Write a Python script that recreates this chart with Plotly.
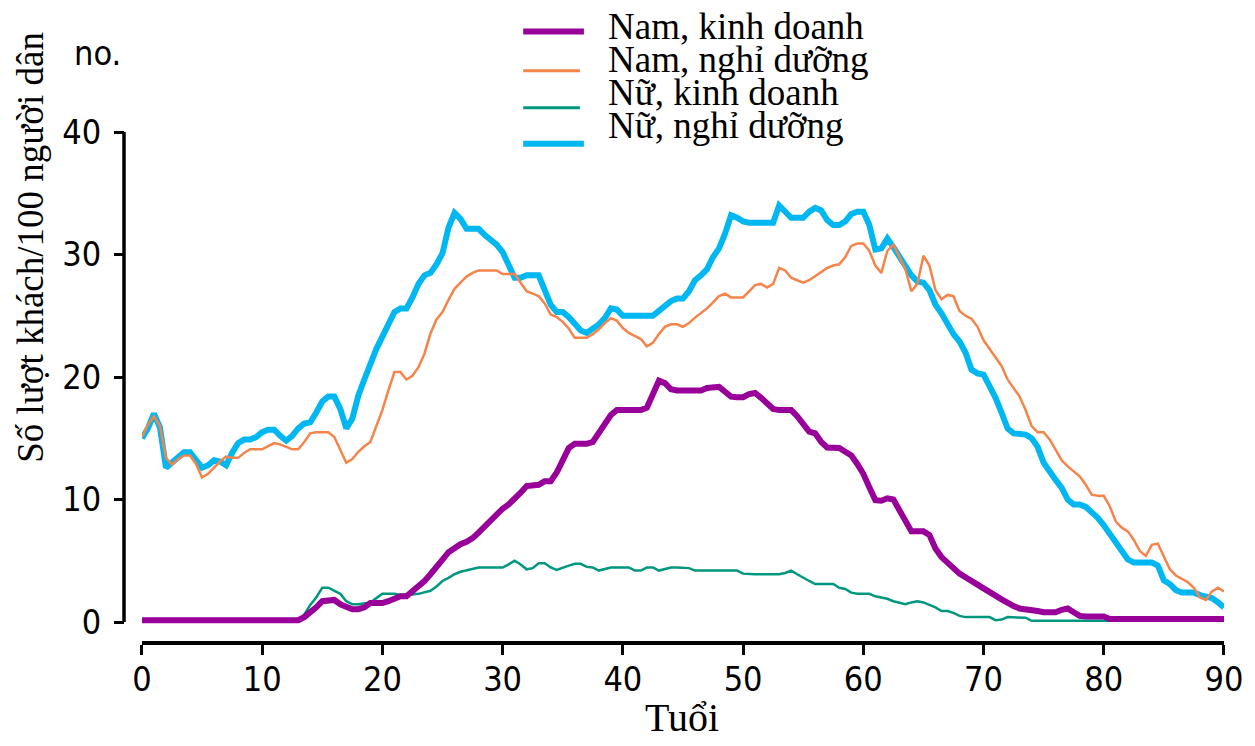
import plotly.graph_objects as go

# Age grid (half-year steps, 0 to 90)
AGES = [i / 2 for i in range(181)]

SERIES_NAMES = ["Nam, kinh doanh", "Nam, nghỉ dưỡng", "Nữ, kinh doanh", "Nữ, nghỉ dưỡng"]
SERIES_COLORS = ["#990099", "#F5844A", "#00977F", "#00B7F1"]

# Trips per 100 residents, one value per half-year of age
NAM_KINH_DOANH = [
    0.15, 0.15, 0.15, 0.15, 0.15, 0.15, 0.15, 0.15, 0.15, 0.15,
    0.15, 0.15, 0.15, 0.15, 0.15, 0.15, 0.15, 0.15, 0.15, 0.15,
    0.15, 0.15, 0.15, 0.15, 0.15, 0.15, 0.15,
    0.4, 0.75, 1.2, 1.7, 1.8, 1.8, 1.45, 1.2, 1.05, 1.05, 1.2, 1.55, 1.55,
    1.55, 1.7, 1.9, 2.1, 2.1, 2.5, 2.9, 3.35, 3.9, 4.6,
    5.1, 5.7, 6.1, 6.35, 6.55, 6.85, 7.3, 7.8, 8.3, 8.75,
    9.25, 9.6, 10.0, 10.55, 11.1, 11.2, 11.2, 11.5, 11.5, 12.2,
    13.3, 14.2, 14.55, 14.55, 14.55, 14.7, 15.4, 16.1, 16.9, 17.3,
    17.3, 17.3, 17.3, 17.3, 17.5, 18.7, 19.7, 19.5, 19.0, 18.9,
    18.9, 18.9, 18.9, 18.9, 19.1, 19.2, 19.2, 18.8, 18.4, 18.35,
    18.35, 18.6, 18.7, 18.3, 17.8, 17.4, 17.3, 17.3, 17.3, 16.8,
    16.1, 15.55, 15.4, 14.7, 14.25, 14.25, 14.2, 13.9, 13.6, 12.9,
    12.1, 11.0, 9.95, 9.9, 10.1, 10.0, 9.2, 8.4, 7.4, 7.4,
    7.4, 7.1, 6.0, 5.3, 4.8, 4.35, 3.95, 3.65, 3.4, 3.05,
    2.75, 2.5, 2.15, 1.85, 1.55, 1.3, 1.1, 1.05, 1.05, 0.9,
    0.8, 0.8, 0.8, 1.0, 1.1, 0.8, 0.5, 0.45, 0.45, 0.45,
    0.45, 0.25,
    0.25, 0.25, 0.25, 0.25, 0.25, 0.25, 0.25, 0.25, 0.25, 0.25,
    0.25, 0.25, 0.25, 0.25, 0.25, 0.25, 0.25, 0.25, 0.25,
]

NAM_NGHI_DUONG = [
    15.1, 16.1, 16.8, 16.0, 13.4, 12.85, 13.3, 13.6, 13.6, 12.9,
    11.8, 12.1, 12.6, 13.1, 13.5, 13.4, 13.4, 13.8, 14.1, 14.1,
    14.1, 14.35, 14.6, 14.5, 14.3, 14.1, 14.1, 14.7, 15.4, 15.5,
    15.5, 15.5, 15.1, 14.0, 13.0, 13.3, 13.9, 14.35, 14.7, 16.0,
    17.3, 18.9, 20.4, 20.4, 19.8, 20.1, 20.8, 21.9, 23.55, 24.7,
    25.3, 26.3, 27.2, 27.7, 28.2, 28.5, 28.7, 28.7, 28.7, 28.7,
    28.4, 28.4, 28.4, 27.7, 27.0, 26.8, 26.6, 26.0, 25.1, 24.9,
    24.5, 23.96, 23.2, 23.2, 23.2, 23.5, 23.9, 24.4, 24.8, 24.6,
    24.0, 23.6, 23.35, 23.1, 22.5, 22.8, 23.5, 24.1, 24.3, 24.3,
    24.1, 24.4, 24.85, 25.2, 25.6, 26.1, 26.6, 26.8, 26.5, 26.5,
    26.5, 27.0, 27.5, 27.6, 27.3, 27.6, 28.9, 28.7, 28.1, 27.9,
    27.7, 27.9, 28.25, 28.6, 28.9, 29.1, 29.2, 29.8, 30.7, 30.9,
    30.9, 30.3, 29.1, 28.5, 30.3, 30.8, 29.8, 28.8, 27.0, 27.6,
    29.9, 29.1, 27.1, 26.35, 26.7, 26.6, 25.4, 25.0, 24.75, 24.1,
    23.0, 22.3, 21.6, 20.9, 19.8, 19.1, 18.4, 17.3, 16.0, 15.5,
    15.5, 14.9, 14.0, 13.2, 12.7, 12.3, 11.9, 11.2, 10.4, 10.3,
    10.3, 9.45, 8.2, 7.7, 7.4, 6.7, 5.8, 5.4, 6.3, 6.4,
    5.3, 4.3, 3.8, 3.5, 3.25, 2.8, 2.0, 1.8, 2.5, 2.8,
    2.5,
]

NU_KINH_DOANH = [
    0.15, 0.15, 0.15, 0.15, 0.15, 0.15, 0.15, 0.15, 0.15, 0.15,
    0.15, 0.15, 0.15, 0.15, 0.15, 0.15, 0.15, 0.15, 0.15, 0.15,
    0.15, 0.15, 0.15, 0.15, 0.15, 0.15, 0.15,
    0.6, 1.4, 2.0, 2.8, 2.8, 2.55, 2.3, 1.7, 1.45, 1.45, 1.5, 1.6, 1.95,
    2.3, 2.3, 2.3, 2.2, 2.2, 2.25, 2.3, 2.4, 2.55, 2.9,
    3.35, 3.6, 3.9, 4.1, 4.2, 4.3, 4.45, 4.45, 4.45, 4.45,
    4.45, 4.7, 5.0, 4.7, 4.3, 4.4, 4.8, 4.8, 4.45, 4.25,
    4.45, 4.6, 4.75, 4.75, 4.5, 4.45, 4.2, 4.3, 4.45, 4.45,
    4.45, 4.45, 4.2, 4.2, 4.45, 4.45, 4.2, 4.3, 4.45, 4.45,
    4.45, 4.4, 4.2, 4.2, 4.2, 4.2, 4.2, 4.2, 4.2, 4.2,
    3.95, 3.9, 3.9, 3.9, 3.9, 3.9, 3.9, 4.0, 4.2, 3.9,
    3.6, 3.35, 3.1, 3.1, 3.1, 3.1, 2.8, 2.7, 2.4, 2.3,
    2.3, 2.3, 2.1, 2.0, 1.9, 1.7, 1.6, 1.45, 1.6, 1.7,
    1.6, 1.4, 1.2, 0.9, 0.9, 0.75, 0.5, 0.4, 0.4, 0.4,
    0.4, 0.4, 0.15, 0.2, 0.4, 0.4, 0.4, 0.35, 0.1, 0.1,
    0.1, 0.1, 0.1, 0.1, 0.1, 0.1, 0.1, 0.1, 0.1, 0.1,
    0.1, 0.1, 0.1, 0.1, 0.1, 0.1, 0.1, 0.1, 0.1, 0.1,
    0.1, 0.1, 0.1, 0.1, 0.1, 0.1, 0.1, 0.1, 0.1, 0.1,
    0.1,
]

NU_NGHI_DUONG = [
    15.0, 15.8, 17.0, 15.9, 12.6, 13.0, 13.5, 13.85, 13.85, 13.3,
    12.6, 12.8, 13.2, 13.1, 12.8, 13.8, 14.6, 14.9, 14.9, 15.1,
    15.5, 15.7, 15.7, 15.2, 14.8, 15.2, 15.8, 16.2, 16.3, 17.1,
    18.0, 18.4, 18.4, 17.4, 15.8, 16.6, 18.5, 19.8, 21.1, 22.3,
    23.3, 24.4, 25.3, 25.6, 25.6, 26.5, 27.6, 28.3, 28.5, 29.2,
    30.1, 32.2, 33.4, 32.9, 32.1, 32.1, 32.1, 31.6, 31.2, 30.8,
    30.2, 29.0, 28.1, 28.1, 28.3, 28.3, 28.3, 27.1, 25.9, 25.3,
    25.3, 24.9, 24.3, 23.8, 23.6, 23.9, 24.3, 24.8, 25.6, 25.5,
    25.0, 25.0, 25.0, 25.0, 25.0, 25.0, 25.4, 25.8, 26.2, 26.4,
    26.4, 27.0, 27.9, 28.3, 28.8, 29.8, 30.5, 31.7, 33.2, 33.0,
    32.7, 32.6, 32.6, 32.6, 32.6, 32.6, 34.0, 33.5, 33.0, 33.0,
    33.0, 33.5, 33.8, 33.6, 32.8, 32.4, 32.4, 32.7, 33.3, 33.5,
    33.5, 32.4, 30.4, 30.5, 31.3, 30.6, 29.8, 29.0, 28.3, 27.8,
    27.7, 27.1, 25.9, 25.2, 24.3, 23.5, 22.9, 22.0, 20.6, 20.3,
    20.2, 19.3, 18.3, 17.1, 15.8, 15.4, 15.4, 15.3, 15.0, 14.3,
    13.0, 12.2, 11.6, 10.95, 10.0, 9.6, 9.6, 9.4, 9.0, 8.5,
    7.9, 7.2, 6.4, 5.6, 5.1, 4.85, 4.85, 4.85, 4.85, 4.6,
    3.4, 3.1, 2.6, 2.4, 2.4, 2.4, 2.2, 2.05, 1.95, 1.6,
    1.2,
]

X_TICKS = [0, 10, 20, 30, 40, 50, 60, 70, 80, 90]
Y_TICKS = [0, 10, 20, 30, 40]

# ---- page geometry (pixels) ----
W, H = 1255, 746
ML, MR, MT, MB = 124, 26, 131.5, 103
PW, PH = W - ML - MR, H - MT - MB
X0_PX = 142          # where age 0 sits
Y0_PX, Y40_PX = 622, 131.5
Y_MIN = -0.6


def pxx(x):
    return (x - ML) / PW


def pxy(y):
    return (H - MB - y) / PH


y_unit = (Y0_PX - Y40_PX) / 40.0
y_bottom_px = Y0_PX - Y_MIN * y_unit

TICK_FONT = dict(family="Liberation Sans Narrow, Arial Narrow, DejaVu Sans Condensed, sans-serif",
                 size=34, color="black")
SERIF = "Liberation Serif, Times New Roman, serif"

fig = go.Figure()

series = [NAM_KINH_DOANH, NAM_NGHI_DUONG, NU_KINH_DOANH, NU_NGHI_DUONG]
widths = [6, 2.5, 2.5, 6]
# draw order: blue, orange, teal, purple on top
for idx in [3, 1, 2, 0]:
    fig.add_trace(go.Scatter(
        x=AGES, y=series[idx], mode="lines", name=SERIES_NAMES[idx],
        line=dict(color=SERIES_COLORS[idx], width=widths[idx]),
        showlegend=False, hoverinfo="skip",
    ))

fig.update_layout(
    width=W, height=H,
    margin=dict(l=ML, r=MR, t=MT, b=MB, pad=0),
    paper_bgcolor="white", plot_bgcolor="white",
    showlegend=False,
    xaxis=dict(
        domain=[pxx(X0_PX), 1], range=[0, 90], anchor="free", position=0,
        showline=True, linewidth=4, linecolor="black",
        ticks="outside", ticklen=10, tickwidth=3, tickcolor="black",
        tickvals=X_TICKS, ticktext=[str(v) for v in X_TICKS],
        tickfont=TICK_FONT, showgrid=False, zeroline=False,
        ticklabelstandoff=-5,
    ),
    yaxis=dict(
        domain=[pxy(y_bottom_px), 1], range=[Y_MIN, 40], anchor="free", position=0,
        showline=False,
        ticks="outside", ticklen=10, tickwidth=3, tickcolor="black",
        tickvals=Y_TICKS, ticktext=[str(v) for v in Y_TICKS],
        tickfont=TICK_FONT, showgrid=False, zeroline=False,
        ticklabelstandoff=6,
    ),
)

shapes = [
    # vertical axis line spanning 0..40 only
    dict(type="line", xref="paper", yref="y", x0=0, x1=0, y0=0, y1=40,
         line=dict(color="black", width=3.5)),
]

# legend swatches
legend_rows = [
    (31, 586, 6),
    (70.3, 582, 3),
    (107.3, 582, 3),
    (143.3, 586, 6),
]
for (ly, lx1, lw), col in zip(legend_rows, SERIES_COLORS):
    shapes.append(dict(type="line", xref="paper", yref="paper",
                       x0=pxx(525), x1=pxx(lx1), y0=pxy(ly), y1=pxy(ly),
                       line=dict(color=col, width=lw)))
fig.update_layout(shapes=shapes)

annotations = []
legend_text_mid = [26, 59, 92, 125]
for name, ty in zip(SERIES_NAMES, legend_text_mid):
    annotations.append(dict(text=name, xref="paper", yref="paper",
                            x=pxx(608), y=pxy(ty), xanchor="left", yanchor="middle",
                            showarrow=False, font=dict(family=SERIF, size=37, color="black")))

annotations.append(dict(text="Số lượt khách/100 người dân", xref="paper", yref="paper",
                        x=pxx(30), y=pxy(247), xanchor="center", yanchor="middle",
                        textangle=-90, showarrow=False,
                        font=dict(family=SERIF, size=37, color="black")))
annotations.append(dict(text="Tuổi", xref="paper", yref="paper",
                        x=pxx(685), y=pxy(718), xanchor="center", yanchor="middle",
                        showarrow=False, font=dict(family=SERIF, size=40, color="black")))
annotations.append(dict(text="no.", xref="paper", yref="paper",
                        x=pxx(72), y=pxy(52), xanchor="left", yanchor="middle",
                        showarrow=False, font=TICK_FONT))
fig.update_layout(annotations=annotations)

fig.write_html("out.html")
